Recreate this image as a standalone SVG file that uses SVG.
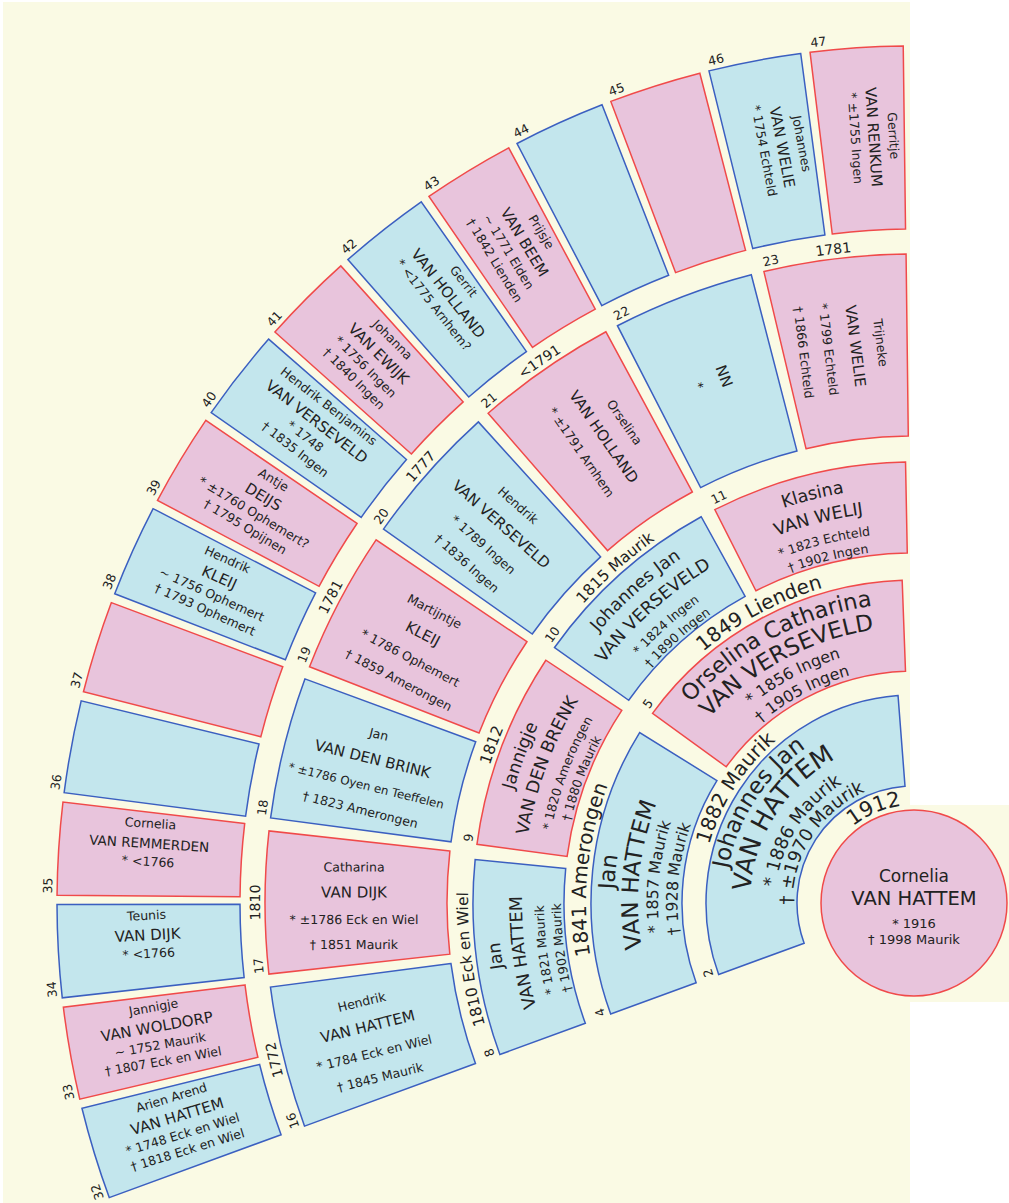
<svg xmlns="http://www.w3.org/2000/svg" width="1009" height="1203" viewBox="0 0 1009 1203">
<style>
.m{fill:#c3e6ed;stroke:#3b5fc0;stroke-width:1.5}
.f{fill:#e8c4dc;stroke:#f04a4a;stroke-width:1.5}
text{font-family:"DejaVu Sans",Verdana,sans-serif;fill:#222}
.c{text-anchor:middle}
.n{font-size:12.5px}
.g1{font-size:23px}.s1{font-size:25.5px}.d1{font-size:18px}
.g2{font-size:22.5px}.s2{font-size:23px}.d2{font-size:15.8px}
.g3{font-size:17.5px}.s3{font-size:17.5px}.d3{font-size:12.6px}
.g5{font-size:12.5px}.s5{font-size:15px}.d5{font-size:12.5px}
</style>
<defs>
<path id="s1" d="M984.66,996.25 L1039.61,1068.79 A208,208 0 0 0 1039.61,737.21 L984.66,809.75 A117,117 0 0 1 984.66,996.25 Z"/>
<path id="s2" d="M1122.56,1004.61 L1204.37,1044.47 A323,323 0 0 0 1204.37,761.53 L1122.56,801.39 A232,232 0 0 1 1122.56,1004.61 Z"/>
<path id="s3" d="M1255.20,980.99 L1343.91,1001.26 A441,441 0 0 0 1343.91,804.74 L1255.20,825.01 A350,350 0 0 1 1255.20,980.99 Z"/>
<path id="s4" d="M1378.15,954.53 L1559.04,974.61 A649,649 0 0 0 1559.04,831.39 L1378.15,851.47 A467,467 0 0 1 1378.15,954.53 Z"/>
<path id="s5" d="M1587.00,939.72 L1769.73,949.69 A857,857 0 0 0 1769.73,856.31 L1587.00,866.28 A674,674 0 0 1 1587.00,939.72 Z"/>
<path id="a98" d="M931.02,806.49 A98,98 0 0 1 931.02,999.51"/>
<path id="a121" d="M935.10,783.35 A121.5,121.5 0 0 1 935.10,1022.65"/>
<path id="a139" d="M938.14,766.11 A139,139 0 0 1 938.14,1039.89"/>
<path id="a164" d="M942.48,741.49 A164,164 0 0 1 942.48,1064.51"/>
<path id="a189" d="M946.82,716.87 A189,189 0 0 1 946.82,1089.13"/>
<path id="a213" d="M950.99,693.24 A213,213 0 0 1 950.99,1112.76"/>
<path id="a236" d="M955.07,670.09 A236.5,236.5 0 0 1 955.07,1135.91"/>
<path id="a256" d="M958.45,650.89 A256,256 0 0 1 958.45,1155.11"/>
<path id="a276" d="M961.93,631.19 A276,276 0 0 1 961.93,1174.81"/>
<path id="a300" d="M966.09,607.56 A300,300 0 0 1 966.09,1198.44"/>
<path id="a328" d="M970.96,579.98 A328,328 0 0 1 970.96,1226.02"/>
<path id="a353" d="M975.30,555.36 A353,353 0 0 1 975.30,1250.64"/>
<path id="a370" d="M978.25,538.62 A370,370 0 0 1 978.25,1267.38"/>
<path id="a392" d="M982.07,516.96 A392,392 0 0 1 982.07,1289.04"/>
<path id="a416" d="M986.24,493.32 A416,416 0 0 1 986.24,1312.68"/>
<path id="a446" d="M991.45,463.78 A446,446 0 0 1 991.45,1342.22"/>
<path id="a654" d="M1027.57,258.94 A654,654 0 0 1 1027.57,1547.06"/>
<path id="a862" d="M1063.69,54.10 A862,862 0 0 1 1063.69,1751.91"/>
</defs>
<rect x="0" y="0" width="1009" height="1203" fill="#ffffff"/>
<rect x="3" y="2" width="907" height="1201" fill="#fafae4"/>
<rect x="816" y="805" width="193" height="197" fill="#fafae4"/>

<g id="p1"><circle cx="914" cy="903" r="93" class="f"/>
<text class="c"><tspan x="914" y="881.5" style="font-size:17px">Cornelia</tspan><tspan x="914" y="904.5" style="font-size:19.5px">VAN HATTEM</tspan><tspan x="914" y="927.5" style="font-size:13px">* 1916</tspan><tspan x="914" y="943.5" style="font-size:13px">† 1998 Maurik</tspan></text></g>

<g id="p2" transform="rotate(-147.25 914 903)"><use href="#s1" class="m"/>
<text class="c g1"><textPath href="#a189" startOffset="50%">Johannes Jan</textPath></text>
<text class="c s1"><textPath href="#a164" startOffset="50%">VAN HATTEM</textPath></text>
<text class="c d1"><textPath href="#a139" startOffset="50%">* 1886 Maurik</textPath></text>
<text class="c d1"><textPath href="#a121" startOffset="50%">† ±1970 Maurik</textPath></text>
<text class="n"><textPath href="#a213" startOffset="102">2</textPath></text></g>

<g id="p5" transform="rotate(-118.075 914 903)"><use href="#s2" class="f"/>
<text class="c g2"><textPath href="#a300" startOffset="50%">Orselina Catharina</textPath></text>
<text class="c s2"><textPath href="#a276" startOffset="50%">VAN VERSEVELD</textPath></text>
<text class="c d2"><textPath href="#a256" startOffset="50%">* 1856 Ingen</textPath></text>
<text class="c d2"><textPath href="#a236" startOffset="50%">† 1905 Ingen</textPath></text>
<text class="n"><textPath href="#a328" startOffset="310.3">5</textPath></text></g>

<g id="p4" transform="rotate(-174.125 914 903)"><use href="#s2" class="m"/>
<text class="c g2"><textPath href="#a300" startOffset="50%">Jan</textPath></text>
<text class="c s2"><textPath href="#a276" startOffset="50%">VAN HATTEM</textPath></text>
<text class="c d2"><textPath href="#a256" startOffset="50%">* 1857 Maurik</textPath></text>
<text class="c d2"><textPath href="#a236" startOffset="50%">† 1928 Maurik</textPath></text>
<text class="n"><textPath href="#a328" startOffset="310.3">4</textPath></text></g>

<g id="p11" transform="rotate(-103.975 914 903)"><use href="#s3" class="f"/>
<text class="c g3"><textPath href="#a416" startOffset="50%">Klasina</textPath></text>
<text class="c s3"><textPath href="#a392" startOffset="50%">VAN WELIJ</textPath></text>
<text class="c d3"><textPath href="#a370" startOffset="50%">* 1823 Echteld</textPath></text>
<text class="c d3"><textPath href="#a353" startOffset="50%">† 1902 Ingen</textPath></text>
<text class="n"><textPath href="#a446" startOffset="523.5">11</textPath></text></g>

<g id="p10" transform="rotate(-131.725 914 903)"><use href="#s3" class="m"/>
<text class="c g3"><textPath href="#a416" startOffset="50%">Johannes Jan</textPath></text>
<text class="c s3"><textPath href="#a392" startOffset="50%">VAN VERSEVELD</textPath></text>
<text class="c d3"><textPath href="#a370" startOffset="50%">* 1824 Ingen</textPath></text>
<text class="c d3"><textPath href="#a353" startOffset="50%">† 1890 Ingen</textPath></text>
<text class="n"><textPath href="#a446" startOffset="523.5">10</textPath></text></g>

<g id="p9" transform="rotate(-159.475 914 903)"><use href="#s3" class="f"/>
<text class="c g3"><textPath href="#a416" startOffset="50%">Jannigje</textPath></text>
<text class="c s3"><textPath href="#a392" startOffset="50%">VAN DEN BRENK</textPath></text>
<text class="c d3"><textPath href="#a370" startOffset="50%">* 1820 Amerongen</textPath></text>
<text class="c d3"><textPath href="#a353" startOffset="50%">† 1880 Maurik</textPath></text>
<text class="n"><textPath href="#a446" startOffset="523.5">9</textPath></text></g>

<g id="p8" transform="rotate(-187.225 914 903)"><use href="#s3" class="m"/>
<text class="c g3"><textPath href="#a416" startOffset="50%">Jan</textPath></text>
<text class="c s3"><textPath href="#a392" startOffset="50%">VAN HATTEM</textPath></text>
<text class="c d3"><textPath href="#a370" startOffset="50%">* 1821 Maurik</textPath></text>
<text class="c d3"><textPath href="#a353" startOffset="50%">† 1902 Maurik</textPath></text>
<text class="n"><textPath href="#a446" startOffset="523.5">8</textPath></text></g>

<g id="p23" transform="rotate(-97.035 914 903)"><use href="#s4" class="f"/>
<text class="c" transform="translate(1474 903) rotate(180)"><tspan class="g5" x="0" y="-31">Trijneke</tspan><tspan class="s5" x="0" y="-5">VAN WELIE</tspan><tspan class="d5" x="0" y="21.5">* 1799 Echteld</tspan><tspan class="d5" x="0" y="46.5">† 1866 Echteld</tspan></text>
<text class="n"><textPath href="#a654" startOffset="842">23</textPath></text></g>

<g id="p22" transform="rotate(-110.855 914 903)"><use href="#s4" class="m"/>
<text class="c" transform="translate(1474 903) rotate(180)"><tspan class="s5" x="0" y="-5">NN</tspan><tspan class="d5" x="0" y="21.5">*</tspan></text>
<text class="n"><textPath href="#a654" startOffset="842">22</textPath></text></g>

<g id="p21" transform="rotate(-124.675 914 903)"><use href="#s4" class="f"/>
<text class="c" transform="translate(1474 903) rotate(180)"><tspan class="g5" x="0" y="-31">Orselina</tspan><tspan class="s5" x="0" y="-5">VAN HOLLAND</tspan><tspan class="d5" x="0" y="21.5">* ±1791 Arnhem</tspan></text>
<text class="n"><textPath href="#a654" startOffset="842">21</textPath></text></g>

<g id="p20" transform="rotate(-138.495 914 903)"><use href="#s4" class="m"/>
<text class="c" transform="translate(1474 903) rotate(180)"><tspan class="g5" x="0" y="-31">Hendrik</tspan><tspan class="s5" x="0" y="-5">VAN VERSEVELD</tspan><tspan class="d5" x="0" y="21.5">* 1789 Ingen</tspan><tspan class="d5" x="0" y="46.5">† 1836 Ingen</tspan></text>
<text class="n"><textPath href="#a654" startOffset="842">20</textPath></text></g>

<g id="p19" transform="rotate(-152.315 914 903)"><use href="#s4" class="f"/>
<text class="c" transform="translate(1474 903) rotate(180)"><tspan class="g5" x="0" y="-31">Martijntje</tspan><tspan class="s5" x="0" y="-5">KLEIJ</tspan><tspan class="d5" x="0" y="21.5">* 1786 Ophemert</tspan><tspan class="d5" x="0" y="46.5">† 1859 Amerongen</tspan></text>
<text class="n"><textPath href="#a654" startOffset="842">19</textPath></text></g>

<g id="p18" transform="rotate(-166.135 914 903)"><use href="#s4" class="m"/>
<text class="c" transform="translate(1474 903) rotate(180)"><tspan class="g5" x="0" y="-31">Jan</tspan><tspan class="s5" x="0" y="-5">VAN DEN BRINK</tspan><tspan x="0" y="21.5" style="font-size:11.8px">* ±1786 Oyen en Teeffelen</tspan><tspan class="d5" x="0" y="46.5">† 1823 Amerongen</tspan></text>
<text class="n"><textPath href="#a654" startOffset="842">18</textPath></text></g>

<g id="p17" transform="rotate(-179.955 914 903)"><use href="#s4" class="f"/>
<text class="c" transform="translate(1474 903) rotate(180)"><tspan class="g5" x="0" y="-31">Catharina</tspan><tspan class="s5" x="0" y="-5">VAN DIJK</tspan><tspan class="d5" x="0" y="21.5">* ±1786 Eck en Wiel</tspan><tspan class="d5" x="0" y="46.5">† 1851 Maurik</tspan></text>
<text class="n"><textPath href="#a654" startOffset="842">17</textPath></text></g>

<g id="p16" transform="rotate(-193.775 914 903)"><use href="#s4" class="m"/>
<text class="c" transform="translate(1474 903) rotate(180)"><tspan class="g5" x="0" y="-31">Hendrik</tspan><tspan class="s5" x="0" y="-5">VAN HATTEM</tspan><tspan class="d5" x="0" y="21.5">* 1784 Eck en Wiel</tspan><tspan class="d5" x="0" y="46.5">† 1845 Maurik</tspan></text>
<text class="n"><textPath href="#a654" startOffset="842">16</textPath></text></g>

<g id="p47" transform="rotate(-93.843 914 903)"><use href="#s5" class="f"/>
<text class="c" transform="translate(1681 903) rotate(180)"><tspan class="g5" x="0" y="-26.5">Gerritje</tspan><tspan class="s5" x="0" y="-6">VAN RENKUM</tspan><tspan class="d5" x="0" y="11.7">* ±1755 Ingen</tspan></text>
<text class="n"><textPath href="#a862" startOffset="1158">47</textPath></text></g>

<g id="p46" transform="rotate(-100.719 914 903)"><use href="#s5" class="m"/>
<text class="c" transform="translate(1681 903) rotate(180)"><tspan class="g5" x="0" y="-26.5">Johannes</tspan><tspan class="s5" x="0" y="-6">VAN WELIE</tspan><tspan class="d5" x="0" y="11.7">* 1754 Echteld</tspan></text>
<text class="n"><textPath href="#a862" startOffset="1158">46</textPath></text></g>

<g id="p45" transform="rotate(-107.595 914 903)"><use href="#s5" class="f"/>
<text class="n"><textPath href="#a862" startOffset="1158">45</textPath></text></g>

<g id="p44" transform="rotate(-114.471 914 903)"><use href="#s5" class="m"/>
<text class="n"><textPath href="#a862" startOffset="1158">44</textPath></text></g>

<g id="p43" transform="rotate(-121.347 914 903)"><use href="#s5" class="f"/>
<text class="c" transform="translate(1681 903) rotate(180)"><tspan class="g5" x="0" y="-26.5">Prijsje</tspan><tspan class="s5" x="0" y="-6">VAN BEEM</tspan><tspan class="d5" x="0" y="11.7">~ 1771 Elden</tspan><tspan class="d5" x="0" y="28.3">† 1842 Lienden</tspan></text>
<text class="n"><textPath href="#a862" startOffset="1158">43</textPath></text></g>

<g id="p42" transform="rotate(-128.223 914 903)"><use href="#s5" class="m"/>
<text class="c" transform="translate(1681 903) rotate(180)"><tspan class="g5" x="0" y="-26.5">Gerrit</tspan><tspan class="s5" x="0" y="-6">VAN HOLLAND</tspan><tspan class="d5" x="0" y="11.7">* &lt;1775 Arnhem?</tspan></text>
<text class="n"><textPath href="#a862" startOffset="1158">42</textPath></text></g>

<g id="p41" transform="rotate(-135.099 914 903)"><use href="#s5" class="f"/>
<text class="c" transform="translate(1681 903) rotate(180)"><tspan class="g5" x="0" y="-26.5">Johanna</tspan><tspan class="s5" x="0" y="-6">VAN EWIJK</tspan><tspan class="d5" x="0" y="11.7">* 1756 Ingen</tspan><tspan class="d5" x="0" y="28.3">† 1840 Ingen</tspan></text>
<text class="n"><textPath href="#a862" startOffset="1158">41</textPath></text></g>

<g id="p40" transform="rotate(-141.975 914 903)"><use href="#s5" class="m"/>
<text class="c" transform="translate(1681 903) rotate(180)"><tspan class="g5" x="0" y="-26.5">Hendrik Benjamins</tspan><tspan class="s5" x="0" y="-6">VAN VERSEVELD</tspan><tspan class="d5" x="0" y="11.7">* 1748</tspan><tspan class="d5" x="0" y="28.3">† 1835 Ingen</tspan></text>
<text class="n"><textPath href="#a862" startOffset="1158">40</textPath></text></g>

<g id="p39" transform="rotate(-148.851 914 903)"><use href="#s5" class="f"/>
<text class="c" transform="translate(1681 903) rotate(180)"><tspan class="g5" x="0" y="-26.5">Antje</tspan><tspan class="s5" x="0" y="-6">DEIJS</tspan><tspan class="d5" x="0" y="11.7">* ±1760 Ophemert?</tspan><tspan class="d5" x="0" y="28.3">† 1795 Opijnen</tspan></text>
<text class="n"><textPath href="#a862" startOffset="1158">39</textPath></text></g>

<g id="p38" transform="rotate(-155.727 914 903)"><use href="#s5" class="m"/>
<text class="c" transform="translate(1681 903) rotate(180)"><tspan class="g5" x="0" y="-26.5">Hendrik</tspan><tspan class="s5" x="0" y="-6">KLEIJ</tspan><tspan class="d5" x="0" y="11.7">~ 1756 Ophemert</tspan><tspan class="d5" x="0" y="28.3">† 1793 Ophemert</tspan></text>
<text class="n"><textPath href="#a862" startOffset="1158">38</textPath></text></g>

<g id="p37" transform="rotate(-162.603 914 903)"><use href="#s5" class="f"/>
<text class="n"><textPath href="#a862" startOffset="1158">37</textPath></text></g>

<g id="p36" transform="rotate(-169.479 914 903)"><use href="#s5" class="m"/>
<text class="n"><textPath href="#a862" startOffset="1158">36</textPath></text></g>

<g id="p35" transform="rotate(-176.355 914 903)"><use href="#s5" class="f"/>
<text class="c" transform="translate(1681 903) rotate(180)"><tspan class="g5" x="0" y="-26.5">Cornelia</tspan><tspan x="0" y="-6" style="font-size:13.5px">VAN REMMERDEN</tspan><tspan class="d5" x="0" y="11.7">* &lt;1766</tspan></text>
<text class="n"><textPath href="#a862" startOffset="1158">35</textPath></text></g>

<g id="p34" transform="rotate(-183.231 914 903)"><use href="#s5" class="m"/>
<text class="c" transform="translate(1681 903) rotate(180)"><tspan class="g5" x="0" y="-26.5">Teunis</tspan><tspan class="s5" x="0" y="-6">VAN DIJK</tspan><tspan class="d5" x="0" y="11.7">* &lt;1766</tspan></text>
<text class="n"><textPath href="#a862" startOffset="1158">34</textPath></text></g>

<g id="p33" transform="rotate(-190.107 914 903)"><use href="#s5" class="f"/>
<text class="c" transform="translate(1681 903) rotate(180)"><tspan class="g5" x="0" y="-26.5">Jannigje</tspan><tspan class="s5" x="0" y="-6">VAN WOLDORP</tspan><tspan class="d5" x="0" y="11.7">~ 1752 Maurik</tspan><tspan class="d5" x="0" y="28.3">† 1807 Eck en Wiel</tspan></text>
<text class="n"><textPath href="#a862" startOffset="1158">33</textPath></text></g>

<g id="p32" transform="rotate(-196.983 914 903)"><use href="#s5" class="m"/>
<text class="c" transform="translate(1681 903) rotate(180)"><tspan class="g5" x="0" y="-26.5">Arien Arend</tspan><tspan class="s5" x="0" y="-6">VAN HATTEM</tspan><tspan class="d5" x="0" y="11.7">* 1748 Eck en Wiel</tspan><tspan class="d5" x="0" y="28.3">† 1818 Eck en Wiel</tspan></text>
<text class="n"><textPath href="#a862" startOffset="1158">32</textPath></text></g>

<g id="marriages">
<text class="c" style="font-size:21px" transform="rotate(-113 914 903)"><textPath href="#a98" startOffset="50%">1912</textPath></text>
<text class="c" style="font-size:20px" transform="rotate(-147.25 914 903)"><textPath href="#a213" startOffset="50%">1882 Maurik</textPath></text>
<text class="c" style="font-size:20px" transform="rotate(-118.075 914 903)"><textPath href="#a328" startOffset="50%">1849 Lienden</textPath></text>
<text class="c" style="font-size:20px" transform="rotate(-174.125 914 903)"><textPath href="#a328" startOffset="50%">1841 Amerongen</textPath></text>
<text class="c" style="font-size:15.5px" transform="rotate(-131.725 914 903)"><textPath href="#a446" startOffset="50%">1815 Maurik</textPath></text>
<text class="c" style="font-size:15.5px" transform="rotate(-159.475 914 903)"><textPath href="#a446" startOffset="50%">1812</textPath></text>
<text class="c" style="font-size:15.5px" transform="rotate(-187.225 914 903)"><textPath href="#a446" startOffset="50%">1810 Eck en Wiel</textPath></text>
<text class="c" style="font-size:14px" transform="rotate(-97.035 914 903)"><textPath href="#a654" startOffset="50%">1781</textPath></text>
<text class="c" style="font-size:14px" transform="rotate(-124.675 914 903)"><textPath href="#a654" startOffset="50%">&lt;1791</textPath></text>
<text class="c" style="font-size:14px" transform="rotate(-138.495 914 903)"><textPath href="#a654" startOffset="50%">1777</textPath></text>
<text class="c" style="font-size:14px" transform="rotate(-152.315 914 903)"><textPath href="#a654" startOffset="50%">1781</textPath></text>
<text class="c" style="font-size:14px" transform="rotate(-179.955 914 903)"><textPath href="#a654" startOffset="50%">1810</textPath></text>
<text class="c" style="font-size:14px" transform="rotate(-193.775 914 903)"><textPath href="#a654" startOffset="50%">1772</textPath></text>
</g>
</svg>
